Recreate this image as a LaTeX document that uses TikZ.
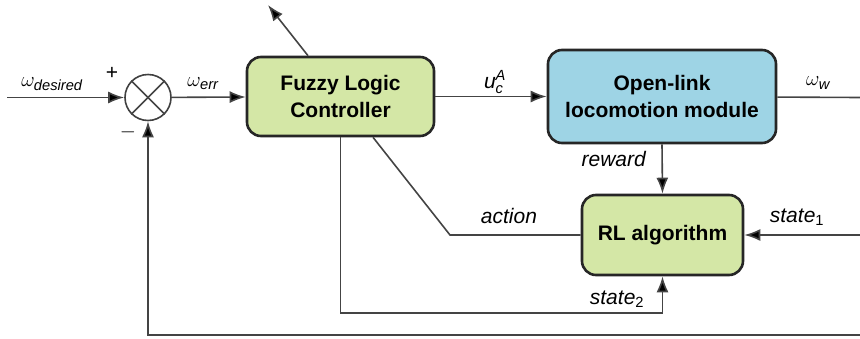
\documentclass[tikz,border=0pt]{standalone}
\usepackage{amsmath}
\usepackage{fontspec}
\setmainfont{Liberation Sans}
\usepackage{xcolor}
\usetikzlibrary{arrows.meta}
\usetikzlibrary{positioning}

\definecolor{boxgreen}{HTML}{D4E7A6}
\definecolor{boxblue}{HTML}{9ED4E5}
\definecolor{linegrey}{HTML}{444444}

\begin{document}
\begin{tikzpicture}[x=1pt,y=-1pt]

	\tikzstyle{vblock} = [draw=black!85,line width=2.6pt,rounded corners=14pt,align=center,font=\bfseries\fontsize{21}{27}\selectfont]
	\tikzstyle{vsum} = [circle,draw=black!75,line width=1.6pt,fill=white,minimum size=46pt,inner sep=0pt]
	\tikzstyle{vedge} = [-{Latex[length=16pt,width=12pt,fill=black]},draw=linegrey,line width=1.6pt]
	\tikzstyle{vline} = [draw=linegrey,line width=1.6pt]
	\tikzstyle{vlabel} = [font=\fontsize{21}{25}\selectfont]

	\useasboundingbox (0,0) rectangle (860,338);

	\node[vsum] (sum) at (148,97.5) {};
	\node[vblock,fill=boxgreen,minimum width=187pt,minimum height=79pt] (flc) at (340.5,96.5) {Fuzzy Logic\\Controller};
	\node[vblock,fill=boxblue,minimum width=228pt,minimum height=93pt] (olm) at (662,96.5) {Open-link\\locomotion module};
	\node[vblock,fill=boxgreen,minimum width=161pt,minimum height=80pt] (rl) at (662.5,235) {RL algorithm};

	\coordinate (in) at (7,97.5);
	\coordinate (out) at (860,97.5);
	\coordinate (up) at (268,5);
	\coordinate (s1) at (860,235);
	\coordinate (ac) at (450,235);
	\coordinate (s2) at (340.5,313);
	\coordinate (fb) at (860,335);

	\node[vlabel] (l-des) at (52,84) {$\omega_{\textit{desired}}$};
	\node[vlabel] (l-plus) at (112,73) {+};
	\node[vlabel] (l-minus) at (128,132) {$-$};
	\node[vlabel] (l-err) at (203,84) {$\omega_{\textit{err}}$};
	\node[vlabel] (l-u) at (495,82) {$\textit{u}_{\textit{c}}^{\textit{A}}$};
	\node[vlabel] (l-w) at (818,83) {$\omega_{\textit{w}}$};
	\node[vlabel] (l-rew) at (614,159) {\textit{reward}};
	\node[vlabel] (l-act) at (509,216) {\textit{action}};
	\node[vlabel] (l-s1) at (797,217) {\textit{state}\textsubscript{1}};
	\node[vlabel] (l-s2) at (617,299) {\textit{state}\textsubscript{2}};

	\draw[vline] (sum.north west) -- (sum.south east);
	\draw[vline] (sum.north east) -- (sum.south west);

	\draw (in) edge [vedge] (sum);
	\draw (sum) edge [vedge] (flc);
	\draw (flc) edge [vedge] (olm);
	\draw (olm) edge [vline] (out);
	\draw ([xshift=-32.5pt]flc.north) edge [vedge] (up);
	\draw (olm.south) edge [vedge] (rl.north);
	\draw (s1) edge [vedge] (rl);

	\draw[vline] (rl.west) -- (ac) -- ([xshift=32.5pt]flc.south);
	\draw[vedge] (flc.south) -- (s2) -| (rl.south);
	\draw[vedge] (fb) -| (sum.south);

\end{tikzpicture}
\end{document}
